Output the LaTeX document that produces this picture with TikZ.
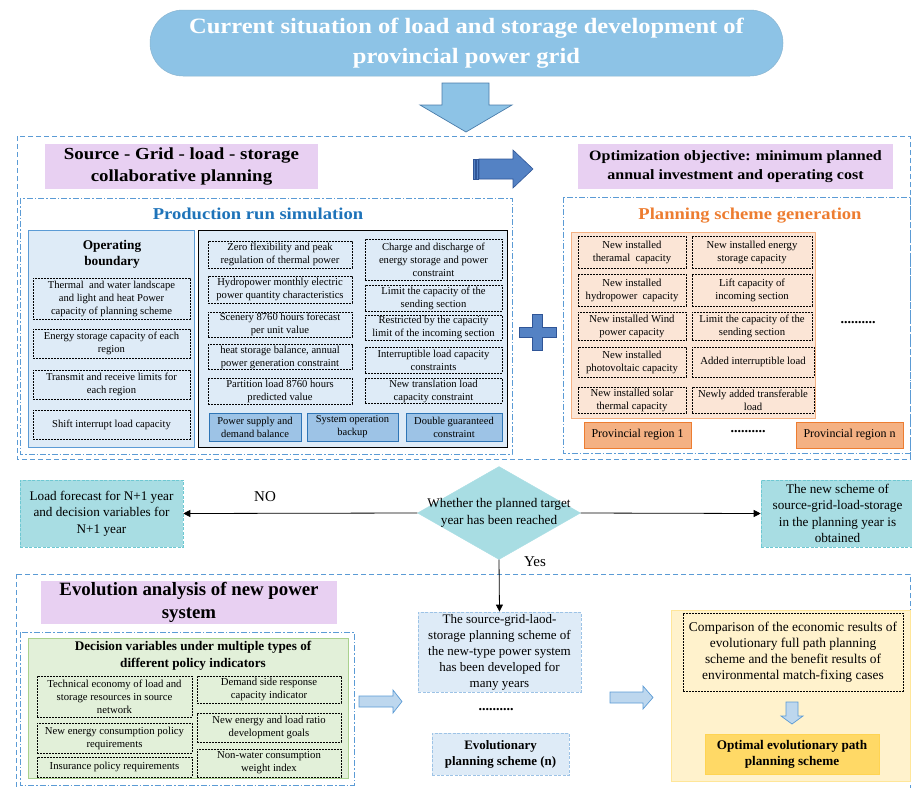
\documentclass[tikz,border=0pt]{standalone}
\usepackage{fontspec}
\setmainfont{Liberation Serif}
\newfontfamily\wserif[FakeStretch=1.12]{Liberation Serif}
\usetikzlibrary{arrows.meta,shapes.geometric}
\newcommand\fs[2]{\fontsize{#1}{#2}\selectfont}
\newcommand\mkbox[7]{\node[#6, minimum width={#4pt-#2pt}, minimum height={#5pt-#3pt}] (#1) at ({(#2+#4)/2},{(#3+#5)/2}) {#7};}
\definecolor{ttl}{RGB}{141,195,230}
\definecolor{obl}{RGB}{91,155,213}
\definecolor{pur}{RGB}{232,208,242}
\definecolor{darr}{RGB}{84,130,196}
\definecolor{darrb}{RGB}{47,85,151}
\definecolor{ptitle}{RGB}{30,115,185}
\definecolor{lbl}{RGB}{222,235,247}
\definecolor{mbl}{RGB}{157,195,230}
\definecolor{bbl}{RGB}{46,117,182}
\definecolor{org}{RGB}{237,125,49}
\definecolor{lorg}{RGB}{251,229,214}
\definecolor{morg}{RGB}{244,177,131}
\definecolor{tealf}{RGB}{168,221,227}
\definecolor{tealb}{RGB}{110,200,210}
\definecolor{lgr}{RGB}{226,240,217}
\definecolor{mgr}{RGB}{169,209,142}
\definecolor{lyl}{RGB}{255,242,204}
\definecolor{myl}{RGB}{255,230,153}
\definecolor{goldf}{RGB}{255,217,102}
\definecolor{goldb}{RGB}{255,192,0}
\definecolor{barr}{RGB}{189,215,238}
\tikzset{
  outerd/.style={draw=obl, line width=1pt, dash pattern=on 5pt off 3pt},
  dashdot/.style={draw=obl, line width=0.9pt, dash pattern=on 6pt off 2pt on 1.5pt off 2pt},
  dbox/.style={draw=black, line width=0.6pt, dash pattern=on 2pt off 1pt, align=center, inner sep=1pt, font=\fs{10.6}{13}},
  pbox/.style={dbox, font=\fs{10.7}{13}},
  gbox/.style={dbox, font=\fs{10.7}{13}},
  purbox/.style={fill=pur, align=center, inner sep=0pt},
  solbox/.style={fill=mbl, draw=bbl, line width=0.8pt, align=center, inner sep=1pt, font=\fs{10.5}{13}},
  provbox/.style={fill=morg, draw=org, line width=0.8pt, align=center, inner sep=1pt, font=\fs{12}{14}},
  tealbox/.style={fill=tealf, draw=tealb, line width=0.6pt, dash pattern=on 3pt off 1.5pt, align=center, inner sep=1pt, font=\fs{13.2}{16.5}},
  lbbox/.style={fill=lbl, draw=mbl, line width=0.8pt, dash pattern=on 3pt off 1.5pt, align=center, inner sep=1pt},
  arr/.style={draw=black, line width=0.8pt, -{Triangle[length=7pt,width=7pt]}},
  blockarr/.style={fill=barr, draw=obl, line width=0.7pt},
  dots/.style={font=\fs{14}{14}\bfseries, inner sep=0pt}
}
\begin{document}
\begin{tikzpicture}[x=1pt,y=-1pt]
\useasboundingbox (0,0) rectangle (912,787);
% ---------- title ----------
\node[fill=ttl, draw=ttl!80!gray, line width=0.5pt, rounded corners=33pt, minimum width=633pt, minimum height=66pt, align=center, text=white, font=\wserif\fs{21.9}{29.5}\bfseries] (title) at (466.5,43) {Current situation of load and storage development of\\provincial power grid};
% down block arrow
\draw[fill=ttl, draw=obl!80!black, line width=0.7pt] (442,83) -- (489,83) -- (489,105) -- (512,105) -- (466,132) -- (420,105) -- (442,105) -- cycle;
% ---------- upper section ----------
\draw[outerd] (17,136) rectangle (910,459);
\mkbox{sgls}{45}{144}{318}{189}{purbox, font=\wserif\fs{16.9}{21.5}\bfseries}{Source - Grid - load - storage\\collaborative planning}
\mkbox{optobj}{578}{144}{893}{189}{purbox, font=\wserif\fs{14.3}{19}\bfseries}{Optimization objective: minimum planned\\annual investment and operating cost}
% striped right arrow
\draw[fill=darr, draw=darrb, line width=0.5pt] (473,159) rectangle (475,179);
\draw[fill=darr, draw=darrb, line width=0.5pt] (476.5,159) rectangle (478,179);
\draw[fill=darr, draw=darrb, line width=0.6pt] (479,159) -- (513,159) -- (513,150) -- (533,169) -- (513,188) -- (513,179) -- (479,179) -- cycle;
% production run simulation
\draw[dashdot] (20,198) rectangle (512,454);
\node[text=ptitle, anchor=base, font=\wserif\fs{16.6}{20}\bfseries] (prtitle) at (258,219.5) {Production run simulation};
\mkbox{opb}{28}{230}{194}{447}{fill=lbl, draw=obl, line width=0.9pt}{}
\node[font=\fs{13.3}{16}\bfseries, align=center] (opbt) at (112,254) {Operating\\boundary};
\mkbox{ob1}{33}{278}{190}{319}{dbox}{Thermal\ \ and water landscape\\and light and heat Power\\capacity of planning scheme}
\mkbox{ob2}{33}{329}{190}{358}{dbox}{Energy storage capacity of each\\region}
\mkbox{ob3}{33}{370}{190}{399}{dbox}{Transmit and receive limits for\\each region}
\mkbox{ob4}{33}{410}{190}{439}{dbox}{Shift interrupt load capacity}
\mkbox{cons}{198}{230}{507}{447}{fill=lbl, draw=black, line width=0.9pt}{}
\mkbox{c1}{208}{241}{352}{268}{dbox}{Zero flexibility and peak\\regulation of thermal power}
\mkbox{c2}{208}{276}{352}{303}{dbox}{Hydropower monthly electric\\power quantity characteristics}
\mkbox{c3}{208}{312}{352}{337}{dbox}{Scenery 8760 hours forecast\\per unit value}
\mkbox{c4}{208}{345}{352}{369}{dbox}{heat storage balance, annual\\power generation constraint}
\mkbox{c5}{208}{378}{352}{404}{dbox}{Partition load 8760 hours\\predicted value}
\mkbox{d1}{365}{239}{502}{280}{dbox}{Charge and discharge of\\energy storage and power\\constraint}
\mkbox{d2}{365}{285}{502}{311}{dbox}{Limit the capacity of the\\sending section}
\mkbox{d3}{365}{316}{502}{339}{dbox}{Restricted by the capacity\\limit of the incoming section}
\mkbox{d4}{365}{347}{502}{373}{dbox}{Interruptible load capacity\\constraints}
\mkbox{d5}{365}{379}{502}{403}{dbox}{New translation load\\capacity constraint}
\mkbox{s1}{209}{413}{301}{441}{solbox}{Power supply and\\demand balance}
\mkbox{s2}{307}{413}{398}{441}{solbox}{System operation\\backup}
\mkbox{s3}{406}{413}{502}{441}{solbox}{Double guaranteed\\constraint}
% plus sign
\draw[fill=darr, draw=darrb, line width=0.7pt] (532,314) -- (542,314) -- (542,327) -- (556,327) -- (556,337) -- (542,337) -- (542,350) -- (532,350) -- (532,337) -- (519,337) -- (519,327) -- (532,327) -- cycle;
% planning scheme generation
\draw[dashdot] (563,197) rectangle (910,453);
\node[text=org, anchor=base, font=\wserif\fs{16.6}{20}\bfseries] (pstitle) at (750,219.5) {Planning scheme generation};
\mkbox{parea}{571}{232}{815}{418}{fill=lorg, draw=morg, line width=0.8pt}{}
\mkbox{p1}{578}{236}{686}{268}{pbox}{New installed\\theramal\ \ capacity}
\mkbox{p2}{578}{274}{686}{306}{pbox}{New installed\\hydropower\ \ capacity}
\mkbox{p3}{578}{312}{686}{340}{pbox}{New installed Wind\\power capacity}
\mkbox{p4}{578}{347}{686}{377}{pbox}{New installed\\photovoltaic capacity}
\mkbox{p5}{578}{387}{686}{413}{pbox}{New installed solar\\thermal capacity}
\mkbox{q1}{692}{236}{812}{268}{pbox}{New installed energy\\storage capacity}
\mkbox{q2}{692}{274}{812}{306}{pbox}{Lift capacity of\\incoming section}
\mkbox{q3}{692}{312}{812}{340}{pbox}{Limit the capacity of the\\sending section}
\mkbox{q4}{692}{347}{814}{377}{pbox}{Added interruptible load}
\mkbox{q5}{692}{387}{814}{413}{pbox}{Newly added transferable\\load}
\node[dots] (pdots) at (858,323) {..........};
\mkbox{reg1}{584}{422}{691}{448}{provbox}{Provincial region 1}
\node[dots] (rdots) at (748,432) {..........};
\mkbox{regn}{796}{422}{903}{448}{provbox}{Provincial region n}
% ---------- decision ----------
\node[diamond, fill=tealf, draw=tealf, minimum width=163pt, minimum height=93pt, inner sep=0pt] (dec) at (499,513) {};
\node[font=\fs{13.2}{16.5}, align=center, inner sep=0pt] (dect) at (dec.center) {Whether the planned target\\year has been reached};
\mkbox{lf}{20}{480}{183}{547}{tealbox}{Load forecast for N+1 year\\and decision variables for\\N+1 year}
\mkbox{ns}{761}{480}{914}{547}{tealbox}{The new scheme of\\source-grid-load-storage\\in the planning year is\\obtained}
% ---------- lower section ----------
\draw[outerd] (16,574) rectangle (910,795);
\mkbox{evo}{41}{581}{337}{624}{purbox, font=\fs{18.8}{23}\bfseries}{Evolution analysis of new power\\system}
\draw[dashdot] (20,632) rectangle (354,785);
\mkbox{garea}{28}{638}{348}{778}{fill=lgr, draw=mgr, line width=0.8pt}{}
\node[font=\fs{13.2}{17}\bfseries, align=center] (gtitle) at (193,655.5) {Decision variables under multiple types of\\different policy indicators};
\mkbox{g1}{37}{676}{192}{717}{gbox}{Technical economy of load and\\storage resources in source\\network}
\mkbox{g2}{37}{723}{192}{753}{gbox}{New energy consumption policy\\requirements}
\mkbox{g3}{37}{757}{192}{777}{gbox}{Insurance policy requirements}
\mkbox{h1}{197}{676}{341}{703}{gbox}{Demand side response\\capacity indicator}
\mkbox{h2}{197}{713}{341}{742}{gbox}{New energy and load ratio\\development goals}
\mkbox{h3}{197}{749}{341}{777}{gbox}{Non-water consumption\\weight index}
\draw[blockarr] (359,696) -- (393,696) -- (393,690) -- (402,701.5) -- (393,713) -- (393,707) -- (359,707) -- cycle;
\mkbox{sg}{418}{612}{581}{692}{lbbox, font=\fs{13}{16}}{The source-grid-laod-\\storage planning scheme of\\the new-type power system\\has been developed for\\many years}
\node[dots] (edots) at (496,710) {..........};
\mkbox{evn}{432}{733}{569}{775}{lbbox, font=\fs{12.9}{16}\bfseries}{Evolutionary\\planning scheme (n)}
\draw[blockarr] (610,692) -- (643,692) -- (643,686) -- (653,697.5) -- (643,709) -- (643,703) -- (610,703) -- cycle;
\mkbox{yarea}{671}{610}{910}{781}{fill=lyl, draw=myl, line width=0.8pt}{}
\mkbox{cmp}{683}{613}{903}{691}{dbox, font=\fs{13.4}{16}}{Comparison of the economic results of\\evolutionary full path planning\\scheme and the benefit results of\\environmental match-fixing cases}
\draw[blockarr] (786,702) -- (798,702) -- (798,716) -- (803,716) -- (792,724) -- (781,716) -- (786,716) -- cycle;
\mkbox{opt}{705}{734}{879}{774}{fill=goldf, draw=goldf!80!goldb, line width=0.8pt, align=center, font=\fs{13.2}{16}\bfseries}{Optimal evolutionary path\\planning scheme}
% ---------- connectors ----------
\draw[arr] (dec.west) -- (lf.east);
\draw[arr] (dec.east) -- (ns.west);
\draw[arr] (dec.south) -- (sg.north);
\node[font=\fs{15}{17}] (nolab) at (265,497) {NO};
\node[font=\fs{15}{17}] (yeslab) at (535,562) {Yes};
\end{tikzpicture}
\end{document}
